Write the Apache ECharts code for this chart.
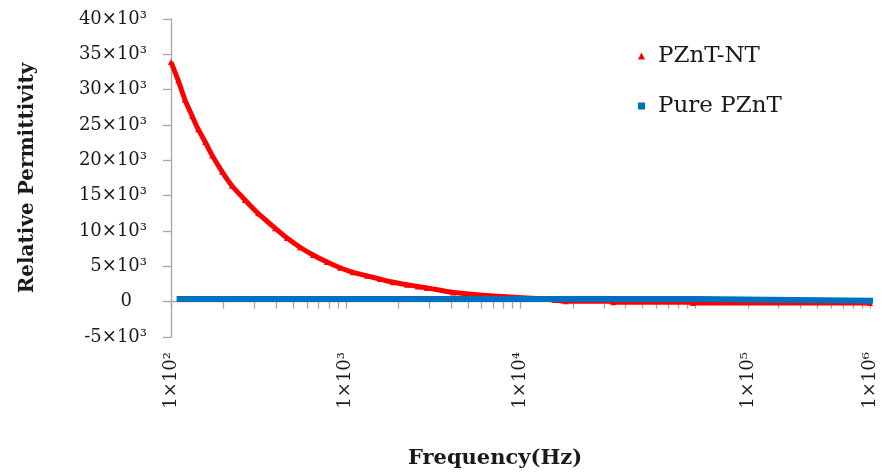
<!DOCTYPE html>
<html><head><meta charset="utf-8">
<script src="https://cdn.jsdelivr.net/npm/echarts@6/dist/echarts.min.js"></script>
<style>html,body{margin:0;padding:0;background:#fff}#c{width:882px;height:472px}</style>
</head><body><div id="c"></div>
<script>
// PZnT-NT readings (frequency in Hz, relative permittivity)
const freqNT = [100, 110, 120, 132, 143, 157, 172, 196, 223, 265, 315, 394, 461, 547, 650, 781, 927, 1100, 1324, 1570, 1864, 2243, 2590, 2917, 4110, 5866, 8373, 12420, 15700, 18200, 33500, 34000, 96000, 97000, 1000000];
const permNT = [33900, 31300, 28600, 26300, 24400, 22600, 20700, 18400, 16400, 14400, 12500, 10400, 9000, 7700, 6600, 5600, 4800, 4150, 3650, 3200, 2750, 2400, 2150, 1950, 1300, 960, 680, 450, 250, 50, 50, -100, -100, -200, -200];
// Pure PZnT readings
const freqPure = [112, 98500, 98500, 1000000];
const permPure = [380, 380, 150, 150];
// axis ticks
const xTicks = [];
[100, 1000, 10000, 100000].forEach(d => { for (let k = 1; k <= 9; k++) xTicks.push(d * k); });
xTicks.push(1000000);
const yMin = -5000, yMax = 40000, yStep = 5000;
const sup = {2: '²', 3: '³', 4: '⁴', 5: '⁵', 6: '⁶'};

const FONT = 'DejaVu Serif';
const TXT = '#1a1a1a';
const AXC = '#a6a6a6';

const chart = echarts.init(document.getElementById('c'), null, {renderer: 'canvas'});
chart.setOption({
  animation: false,
  backgroundColor: '#fff',
  grid: {left: 171, right: 12, top: 19, bottom: 135, outerBoundsMode: 'none'},
  legend: {
    orient: 'vertical', left: 633, top: 38, itemWidth: 7, itemHeight: 7, itemGap: 24,
    textStyle: {fontFamily: FONT, fontSize: 23, color: TXT, lineHeight: 26, padding: [0, 0, 0, 8]},
    data: [{name: 'PZnT-NT', icon: 'triangle'}, {name: 'Pure PZnT', icon: 'rect'}]
  },
  xAxis: {
    type: 'log', logBase: 10, min: 100, max: 1000000, splitNumber: 4,
    name: 'Frequency(Hz)', nameLocation: 'middle', nameGap: 111,
    nameTextStyle: {fontFamily: FONT, fontWeight: 'bold', fontSize: 21, color: TXT, padding: [0, 51, 0, 0]},
    axisLine: {show: true, lineStyle: {color: AXC, width: 1.3}},
    axisTick: {show: true, inside: false, length: 7, customValues: xTicks, lineStyle: {color: AXC, width: 1.3}},
    minorTick: {show: false}, splitLine: {show: false},
    axisLabel: {
      rotate: 90, margin: 15, fontFamily: FONT, fontSize: 18, color: TXT,
      formatter: v => {
        const e = Math.round(Math.log10(v));
        const t = '1×10' + sup[e];
        return e === 5 ? '{m|' + t + '}' : t;
      },
      rich: {m: {fontFamily: FONT, fontSize: 18, color: TXT, padding: [106, 0, 0, 0]}}
    }
  },
  yAxis: {
    type: 'value', min: yMin, max: yMax, interval: yStep,
    name: 'Relative Permittivity', nameLocation: 'middle', nameGap: 133,
    nameTextStyle: {fontFamily: FONT, fontWeight: 'bold', fontSize: 20, color: TXT},
    axisLine: {show: true, lineStyle: {color: AXC, width: 1.3}},
    axisTick: {show: true, inside: false, length: 8, lineStyle: {color: AXC, width: 1.3}},
    splitLine: {show: false},
    axisLabel: {
      margin: 24, fontFamily: FONT, fontSize: 18, color: TXT,
      formatter: v => v === 0 ? '{z|0}' : (v / 1000) + '×10³',
      rich: {z: {fontFamily: FONT, fontSize: 18, color: TXT, padding: [0, 15, 0, 0]}}
    }
  },
  series: [
    {
      name: 'PZnT-NT', type: 'line', color: '#ff0000', z: 2,
      data: freqNT.map((f, i) => [f, permNT[i]]),
      symbol: 'triangle', symbolSize: 6, showAllSymbol: true, smooth: 0.2,
      lineStyle: {width: 5, color: '#ff0000'},
      itemStyle: {color: '#ff0000'}
    },
    {
      name: 'Pure PZnT', type: 'line', color: '#0070c0', z: 3,
      data: freqPure.map((f, i) => [f, permPure[i]]),
      symbol: 'none',
      lineStyle: {width: 6, color: '#0070c0', cap: 'square', join: 'miter'},
      itemStyle: {color: '#0070c0'}
    }
  ]
});
</script></body></html>
